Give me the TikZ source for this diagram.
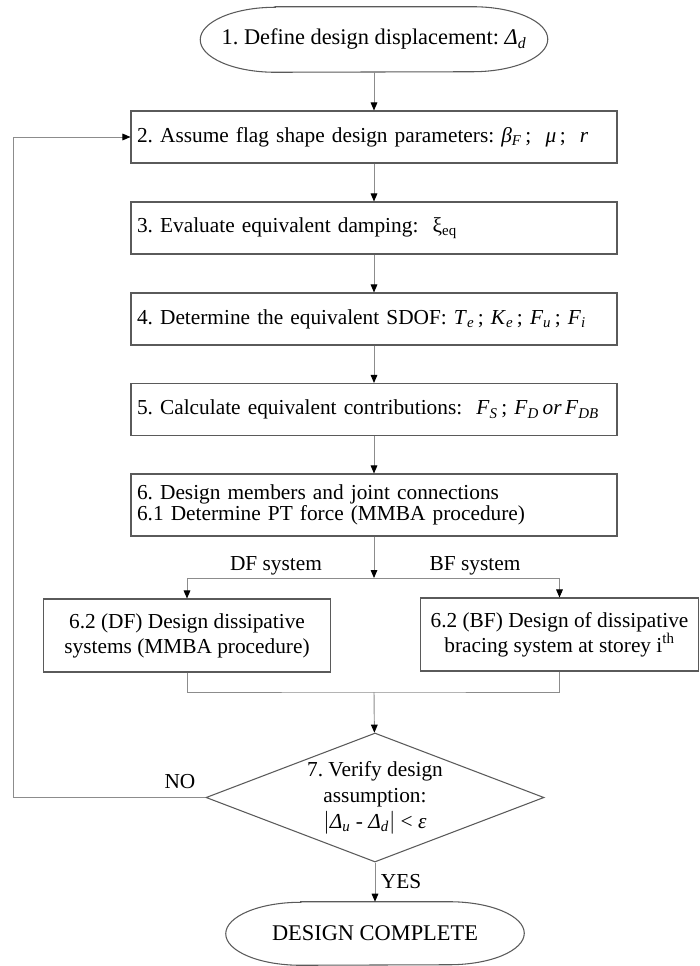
\documentclass[tikz,border=0pt]{standalone}
\usepackage{fontspec}
\setmainfont{Liberation Serif}
\usetikzlibrary{arrows.meta,positioning,shapes.geometric,calc}
\definecolor{boxgray}{HTML}{5A5A5A}
\definecolor{linegray}{HTML}{8C8C8C}
\newcommand{\isub}[2]{\textit{#1}\textsubscript{\textit{#2}}}
\def\px{0.75pt}
\frenchspacing
% stadium outline round a named node: node, y radius (px)
\newcommand{\termshape}[2]{%
  \draw[boxgray,line width=0.8pt] ($(#1.north west)+(75,0)$) -- ($(#1.north east)+(-75,0)$)
    arc[start angle=90,end angle=-90,x radius=75*\px,y radius=#2*\px]
    -- ($(#1.south west)+(75,0)$)
    arc[start angle=270,end angle=90,x radius=75*\px,y radius=#2*\px] -- cycle;}

\begin{document}
\begin{tikzpicture}[x=0.75pt,y=-0.75pt,
  txt/.style={font=\fontsize{16}{18}\selectfont},
  stepbox/.style={txt,draw=boxgray,line width=0.8pt,text width=474*\px,inner xsep=6*\px,
    minimum height=52*\px,align=left},
  subbox/.style={draw=boxgray,line width=0.8pt,minimum height=73*\px,align=center,
    font=\fontsize{16}{18.75}\selectfont},
  termnode/.style={font=\fontsize{16.8}{18}\selectfont,minimum width=347*\px,minimum height=65*\px},
  check/.style={diamond,draw=boxgray,line width=0.8pt,aspect=2.62,inner sep=0pt,
    minimum width=338*\px,minimum height=129*\px,align=center,
    font=\fontsize{16}{19.5}\selectfont},
  line/.style={draw=linegray,line width=0.7pt},
  arr/.style={line,-{Triangle[length=6pt,width=5pt,color=black]}}]
  \useasboundingbox (0,0) rectangle (699,966);
  % Start
  \node[termnode] (t1) at (374,39.5) {1. Define design displacement: \isub{Δ}{d}};
  \termshape{t1}{32.5}
  % Main steps
  \node[stepbox] (b2) at (374,137) {2. Assume flag shape design parameters: \isub{β}{F}\,;~ \textit{μ}\,;~ \textit{r}};
  \node[stepbox] (b3) at (374,228) {3. Evaluate equivalent damping:~ ξ\textsubscript{eq}};
  \node[stepbox] (b4) at (374,319) {4. Determine the equivalent SDOF: \isub{T}{e}\,; \isub{K}{e}\,; \isub{F}{u}\,; \isub{F}{i}};
  \node[stepbox] (b5) at (374,409.5) {5. Calculate equivalent contributions:~ \isub{F}{S}\,; \isub{F}{D}\,\textit{or}\,\isub{F}{DB}};
  \node[stepbox,minimum height=62*\px,font=\fontsize{16}{16}\selectfont] (b6) at (374,505)
    {6. Design members and joint connections\\6.1 Determine PT force (MMBA procedure)};
  \foreach \a/\b in {t1/b2,b2/b3,b3/b4,b4/b5,b5/b6}
    \draw[arr] (\a) -- (\b);
  % Branches
  \node[subbox,minimum width=287*\px] (df) at (187,635.5) {6.2 (DF) Design dissipative\\systems (MMBA procedure)};
  \node[subbox,minimum width=278*\px] (bf) at (559.5,634.5) {6.2 (BF) Design of dissipative\\bracing system at storey i\textsuperscript{th}};
  \coordinate (split) at (374,578);
  \coordinate (join) at (374,692);
  \draw[arr] (b6) -- (split);
  \draw[line] (split -| df) -- (split -| bf);
  \draw[arr] (split -| df) -- (df);
  \draw[arr] (split -| bf) -- (bf);
  \node[txt] (dflab) at (276,566) {DF system};
  \node[txt] (bflab) at (475,566) {BF system};
  \draw[line] (df) |- (join) -| (bf);
  % Check
  \node[check] (dec) at (375,797.5) {7. Verify design\\assumption:\\$|$\isub{Δ}{u} - \isub{Δ}{d}$|$ < \textit{ε}};
  \draw[arr] (join) -- (dec);
  \coordinate (back) at (13,797.5);
  \draw[arr] (dec.west) -- (back) |- (b2.west);
  \node[txt] (nolab) at (180,782) {NO};
  % End
  \node[termnode,minimum width=298*\px,minimum height=63*\px] (t2) at (375,933.5) {DESIGN COMPLETE};
  \termshape{t2}{31.5}
  \draw[arr] (dec) -- (t2);
  \node[txt] (yeslab) at (401,882) {YES};
\end{tikzpicture}
\end{document}
